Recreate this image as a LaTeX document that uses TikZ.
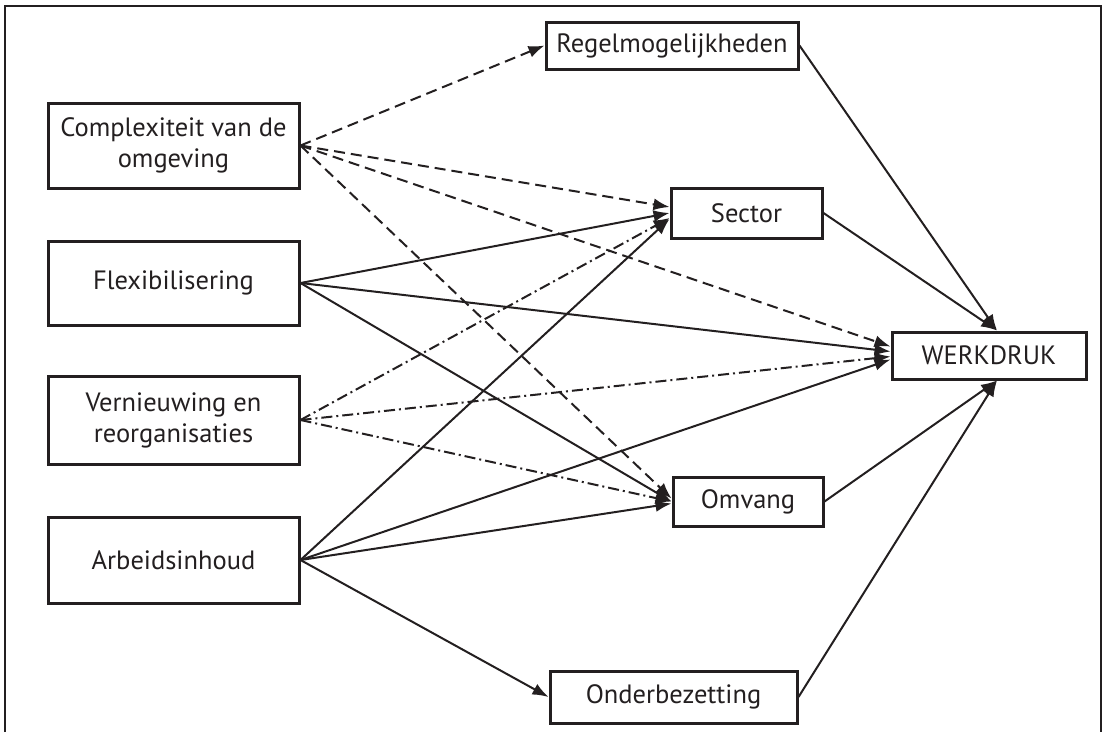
\documentclass[tikz,border=0pt]{standalone}
\usepackage{fontspec}
\setmainfont{PT Sans}
\usetikzlibrary{arrows.meta,calc}
\definecolor{ink}{HTML}{231F20}
\begin{document}
\begin{tikzpicture}[x=1pt,y=-1pt,
  box/.style={draw=ink,line width=3pt,fill=white,inner sep=0pt,align=center,
    font=\fontsize{26.5}{31}\selectfont,text=ink},
  conn/.style={draw=ink,line width=2pt,-{Latex[length=16pt,width=12pt]}},
  dsh/.style={conn,dash pattern=on 11pt off 6pt},
  dshdot/.style={conn,dash pattern=on 11pt off 4pt on 2pt off 4pt}]
\useasboundingbox (0,0) rectangle (1103,732);
\draw[ink,line width=1.8pt] (5,732) -- (5,6) -- (1101,6) -- (1101,732);
% left column
\node[box,minimum width=251pt,minimum height=85pt] (c) at (173.5,145.5) {Complexiteit van de\\omgeving};
\node[box,minimum width=251pt,minimum height=84pt] (f) at (173.5,283) {Flexibilisering};
\node[box,minimum width=251pt,minimum height=88pt] (v) at (173.5,420) {Vernieuwing en\\reorganisaties};
\node[box,minimum width=251pt,minimum height=86pt] (a) at (173.5,560) {Arbeidsinhoud};
% middle column
\node[box,minimum width=252pt,minimum height=47pt] (r) at (672,45.5) {Regelmogelijkheden};
\node[box,minimum width=151pt,minimum height=50pt] (s) at (746.5,213) {Sector};
\node[box,minimum width=150pt,minimum height=49pt] (o) at (748,501.5) {Omvang};
\node[box,minimum width=247pt,minimum height=52pt] (ob) at (673.5,697) {Onderbezetting};
% right
\node[box,minimum width=194pt,minimum height=47pt] (w) at (989,355.5) {WERKDRUK};
% dashed from c
\draw[dsh] (c.east) -- (r.west);
\draw[dsh] (c.east) -- ([yshift=6pt]s.west);
\draw[dsh] (c.east) -- ([yshift=9pt]w.west);
\draw[dsh] (c.east) -- ([yshift=3pt]o.west);
% solid from f
\draw[conn] (f.east) -- (s.west);
\draw[conn] (f.east) -- ([yshift=4pt]w.west);
\draw[conn] (f.east) -- (o.west);
% dash-dot from v
\draw[dshdot] (v.east) -- ([yshift=-5pt]s.west);
\draw[dshdot] (v.east) -- ([yshift=-1pt]w.west);
\draw[dshdot] (v.east) -- (o.west);
% solid from a
\draw[conn] (a.east) -- ([yshift=-6pt]s.west);
\draw[conn] (a.east) -- ([yshift=-4pt]w.west);
\draw[conn] (a.east) -- ([yshift=-2pt]o.west);
\draw[conn] (a.east) -- (ob.west);
% into WERKDRUK
\draw[conn] (r.east) -- ([xshift=8pt]w.north);
\draw[conn] (s.east) -- ([xshift=8pt]w.north);
\draw[conn] (o.east) -- ([xshift=8pt]w.south);
\draw[conn] (ob.east) -- ([xshift=8pt]w.south);
\end{tikzpicture}
\end{document}
